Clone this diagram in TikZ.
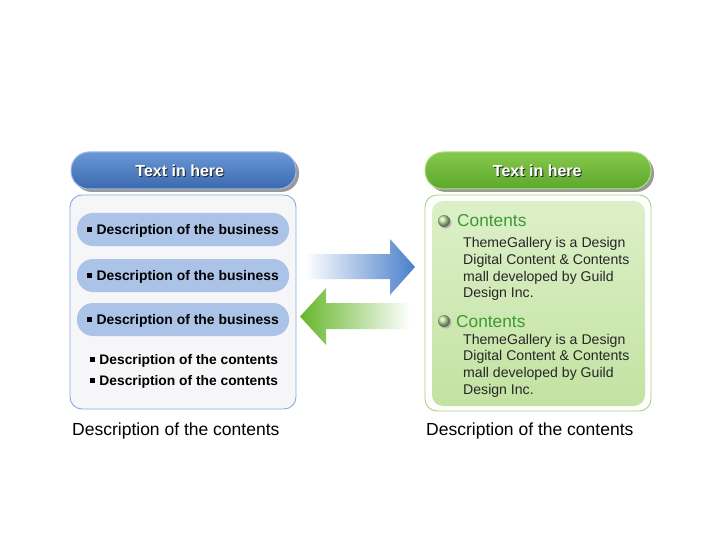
\documentclass[tikz,border=0pt]{standalone}
\usepackage{fontspec}
\setmainfont{Liberation Sans}
\definecolor{hbTop}{HTML}{6A98D6}
\definecolor{hbBot}{HTML}{3A69AE}
\definecolor{hbRim}{HTML}{9DBBE6}
\definecolor{hgTop}{HTML}{86C84C}
\definecolor{hgBot}{HTML}{5CA82C}
\definecolor{hgRim}{HTML}{B4DE8C}
\definecolor{boxBlue}{HTML}{86AADF}
\definecolor{boxFill}{HTML}{F6F6F8}
\definecolor{pillBlue}{HTML}{AAC3E7}
\definecolor{boxGreen}{HTML}{A8D37E}
\definecolor{inTop}{HTML}{DCF0C8}
\definecolor{inBot}{HTML}{C3E2A2}
\definecolor{contGreen}{HTML}{3C9A32}
\definecolor{arrBlue}{HTML}{4A7FCB}
\definecolor{arrGreen}{HTML}{66B62A}
\newcommand{\sqb}{\rule[0.22em]{0.32em}{0.32em}\hspace{0.35em}}
\begin{document}
\begin{tikzpicture}[x=1pt,y=-1pt,
  hdrtext/.style={font=\bfseries\fontsize{16}{18}\selectfont},
  pill/.style={fill=pillBlue, rounded corners=16, minimum width=212pt, minimum height=33pt, inner sep=0pt,
    font=\bfseries\fontsize{13.9}{16}\selectfont},
  pilltext/.style={font=\bfseries\fontsize{13.9}{16}\selectfont, inner sep=0pt, yshift=-1.5pt},
  subitem/.style={font=\bfseries\fontsize{13.8}{16}\selectfont, anchor=west, inner sep=0pt, yshift=-1.2pt},
  caption/.style={font=\fontsize{17.5}{20}\selectfont, anchor=west, inner sep=0pt, yshift=-1.2pt},
  conthead/.style={font=\fontsize{17.3}{20}\selectfont, text=contGreen, anchor=west, inner sep=0pt, yshift=-1pt},
  body/.style={font=\fontsize{14.1}{16.7}\selectfont, anchor=west, inner sep=0pt, text=black!85, yshift=-1pt}]
\useasboundingbox (0,0) rectangle (720,540);
% ---------- left header
\fill[black!40, rounded corners=18] (74,155) rectangle (299,192);
\shade[top color=hbTop, bottom color=hbBot, draw=hbRim, line width=1pt, rounded corners=18] (71,152) rectangle (296,189);
\node[hdrtext, text=black!85] at (180.8,171.8) {Text in here};
\node[hdrtext, text=white] (lh) at (179.8,170.8) {Text in here};
% ---------- left box
\draw[draw=boxBlue, fill=boxFill, line width=0.9pt, rounded corners=12] (70,195) rectangle (296,409);
\node[pill] (b1) at (183,229.5) {};
\node[pill] (b2) at (183,275.5) {};
\node[pill] (b3) at (183,319.5) {};
\node[pilltext] (b1t) at (b1) {\sqb Description of the business};
\node[pilltext] (b2t) at (b2) {\sqb Description of the business};
\node[pilltext] (b3t) at (b3) {\sqb Description of the business};
\node[subitem] (c1) at (90,360) {\sqb Description of the contents};
\node[subitem] (c2) at (90,381) {\sqb Description of the contents};
\node[caption] (lcap) at (72,429.5) {Description of the contents};
% ---------- arrows
\shade[left color=white, right color=arrBlue]
  (305,254) -- (390,254) -- (390,239) -- (415,267) -- (390,295) -- (390,279) -- (305,279) -- cycle;
\shade[left color=arrGreen, right color=white]
  (410,303) -- (326,303) -- (326,288) -- (300,316.5) -- (326,345) -- (326,329) -- (410,329) -- cycle;
% ---------- right header
\fill[black!40, rounded corners=18] (428,155) rectangle (654,192);
\shade[top color=hgTop, bottom color=hgBot, draw=hgRim, line width=1pt, rounded corners=18] (425,152) rectangle (651,189);
\node[hdrtext, text=black!85] at (538.3,171.8) {Text in here};
\node[hdrtext, text=white] (rh) at (537.3,170.8) {Text in here};
% ---------- right box
\draw[draw=boxGreen, fill=white, line width=0.9pt, rounded corners=12] (425,195) rectangle (651,411);
\shade[top color=inTop, bottom color=inBot, rounded corners=11] (432,201) rectangle (645,406);
% bullets
\fill[black!30] (445.5,222.5) circle (6);
\shade[ball color=hgTop!55!white] (444,221) circle (6);
\fill[black!30] (445.5,322.5) circle (6);
\shade[ball color=hgTop!55!white] (444,321) circle (6);
\node[conthead] (h1) at (457,219.5) {Contents};
\node[body] (t1a) at (463,243) {ThemeGallery is a Design};
\node[body] (t1b) at (463,259.7) {Digital Content \& Contents};
\node[body] (t1c) at (463,276.4) {mall developed by Guild};
\node[body] (t1d) at (463,293.1) {Design Inc.};
\node[conthead] (h2) at (456,320.5) {Contents};
\node[body] (t2a) at (463,339.5) {ThemeGallery is a Design};
\node[body] (t2b) at (463,356.2) {Digital Content \& Contents};
\node[body] (t2c) at (463,372.9) {mall developed by Guild};
\node[body] (t2d) at (463,389.6) {Design Inc.};
\node[caption] (rcap) at (426,429.5) {Description of the contents};
\end{tikzpicture}
\end{document}
